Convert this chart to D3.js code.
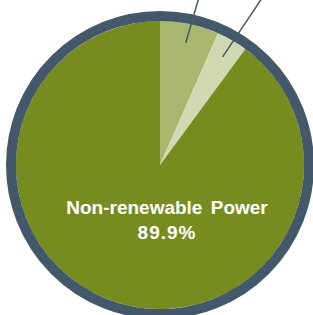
<!DOCTYPE html>
<html>
<head>
<meta charset="utf-8">
<script src="https://cdn.jsdelivr.net/npm/d3@7"></script>
<style>
  html, body { margin: 0; padding: 0; background: #fff; overflow: hidden; }
</style>
</head>
<body>
<div id="chart"></div>
<script>
// power mix pie, only the big slice is labelled inside the view

var categories = ['Renewable A', 'Renewable B', 'Non-renewable Power'];
var shares = [6.6, 3.5, 89.9];
var colors = ['#a9b86e', '#d0d9b1', '#778c1e'];

var width = 313,
    height = 315,
    cx = 160,
    cy = 165,
    radius = 144,
    rim = 10;

var svg = d3.select('#chart').append('svg')
    .attr('width', width)
    .attr('height', height);

var g = svg.append('g')
    .attr('transform', 'translate(' + cx + ',' + cy + ')');

var data = categories.map(function(c, i){
    return { name: c, value: shares[i], color: colors[i] };
});

var pie = d3.pie()
    .value(function(d){ return d.value; })
    .sort(null);

var arc = d3.arc()
    .innerRadius(0)
    .outerRadius(radius);

var arcs = pie(data);

g.selectAll('path.slice')
    .data(arcs)
    .enter()
    .append('path')
        .attr('class', 'slice')
        .attr('d', arc)
        .attr('fill', function(d){ return d.data.color; });

// thick rim round the pie
g.append('circle')
    .attr('r', radius + rim / 2)
    .attr('fill', 'none')
    .attr('stroke', '#43596b')
    .attr('stroke-width', rim);

// leader lines for the small slices (their labels sit above the view)
var lineIn = d3.arc().innerRadius(125).outerRadius(125);
var lineOut = d3.arc().innerRadius(200).outerRadius(200);

g.selectAll('line.leader')
    .data(arcs.filter(function(d){ return d.data.value < 50; }))
    .enter()
    .append('line')
        .attr('class', 'leader')
        .attr('x1', function(d){ return lineIn.centroid(d)[0]; })
        .attr('y1', function(d){ return lineIn.centroid(d)[1]; })
        .attr('x2', function(d){ return lineOut.centroid(d)[0] + 6; })
        .attr('y2', function(d){ return lineOut.centroid(d)[1]; })
        .attr('stroke', '#43596b')
        .attr('stroke-width', 1.5);

var main = arcs[2];
var label = g.append('text')
    .attr('text-anchor', 'middle')
    .attr('fill', '#fff')
    .attr('font-family', 'Liberation Sans, Arial, sans-serif')
    .attr('font-weight', 'bold')
    .attr('font-size', 19);

label.append('tspan')
    .attr('x', 7)
    .attr('y', 49)
    .attr('word-spacing', 3)
    .text(main.data.name);

label.append('tspan')
    .attr('x', 7)
    .attr('y', 74)
    .attr('letter-spacing', 1)
    .text(d3.format('.1f')(main.data.value) + '%');
</script>
</body>
</html>
